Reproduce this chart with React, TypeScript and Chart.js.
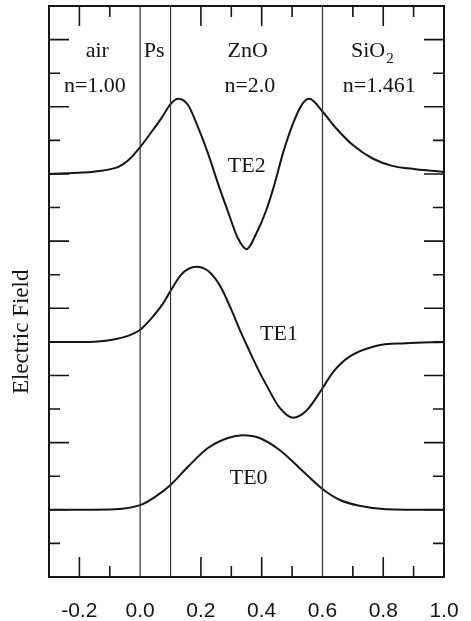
import React, { useEffect, useRef } from 'react';
import { Chart, registerables } from 'chart.js';

Chart.register(...registerables);

const INK = '#151515';
const SERIF = '"Liberation Serif", "DejaVu Serif", serif';
const SANS = '"Liberation Sans", Arial, sans-serif';

// axis ranges
const X_MIN = -0.3;
const X_MAX = 1.0;
const Y_MIN = 0;
const Y_MAX = 8.5;

// layer boundaries (x positions of vertical lines)
const boundaries = [0, 0.1, 0.6];

// TE2 mode profile
const te2X = [-0.3, -0.19, -0.14, -0.07, -0.04, 0.0, 0.03, 0.07, 0.1, 0.125, 0.157, 0.19, 0.223, 0.256, 0.289, 0.321, 0.35, 0.383, 0.415, 0.443, 0.47, 0.503, 0.535, 0.557, 0.6, 0.645, 0.7, 0.765, 0.83, 0.907, 1.0];
const te2Y = [6.0, 6.02, 6.04, 6.11, 6.2, 6.4, 6.58, 6.83, 7.04, 7.12, 7.03, 6.7, 6.31, 5.86, 5.44, 5.05, 4.88, 5.12, 5.46, 5.86, 6.31, 6.75, 7.05, 7.12, 6.93, 6.68, 6.43, 6.23, 6.12, 6.07, 6.03];

// TE1 mode profile
const te1X = [-0.3, -0.17, -0.083, -0.04, 0.0, 0.037, 0.075, 0.1, 0.135, 0.16, 0.185, 0.223, 0.261, 0.3, 0.328, 0.354, 0.385, 0.415, 0.459, 0.503, 0.546, 0.6, 0.633, 0.689, 0.776, 0.874, 1.0];
const te1Y = [3.5, 3.5, 3.54, 3.59, 3.68, 3.85, 4.07, 4.26, 4.5, 4.59, 4.62, 4.56, 4.35, 3.98, 3.68, 3.42, 3.12, 2.86, 2.52, 2.37, 2.47, 2.81, 3.04, 3.28, 3.44, 3.48, 3.5];

// TE0 mode profile
const te0X = [-0.3, -0.083, 0.0, 0.048, 0.1, 0.157, 0.223, 0.289, 0.338, 0.393, 0.459, 0.525, 0.6, 0.656, 0.721, 0.809, 1.0];
const te0Y = [1.0, 1.01, 1.07, 1.19, 1.37, 1.64, 1.92, 2.07, 2.11, 2.07, 1.89, 1.62, 1.31, 1.15, 1.06, 1.01, 1.0];

// layer labels
const layerNames = ['air', 'Ps', 'ZnO', 'SiO'];
const layerSubs = ['', '', '', '2'];
const layerNameX = [-0.141, 0.046, 0.354, 0.764];
const layerIndex = ['n=1.00', '', 'n=2.0', 'n=1.461'];
const layerIndexX = [-0.149, 0, 0.361, 0.787];
const nameRowY = 7.74;
const indexRowY = 7.22;

// mode labels
const modeNames = ['TE2', 'TE1', 'TE0'];
const modeLabelX = [0.351, 0.457, 0.357];
const modeLabelY = [6.03, 3.53, 1.39];

const yTitle = 'Electric Field';
const yTitleY = 3.65;

const toPoints = (xs: number[], ys: number[]) => xs.map((x, i) => ({ x, y: ys[i] }));

const decor = {
  id: 'decor',
  afterDraw(chart: any) {
    const { ctx, chartArea: a, scales } = chart;
    const xs = scales.x;
    const ys = scales.y;
    ctx.save();
    ctx.strokeStyle = INK;
    ctx.lineWidth = 1.6;
    ctx.beginPath();
    // x ticks (inward, top and bottom)
    xs.ticks.forEach((t: any) => {
      const k = Math.round(t.value * 10);
      if (t.value <= X_MIN + 1e-9 || t.value >= X_MAX - 1e-9) return;
      if (boundaries.some((b) => Math.abs(b - t.value) < 1e-6)) return;
      const len = k % 2 === 0 ? 20 : 11;
      const px = xs.getPixelForValue(t.value);
      ctx.moveTo(px, a.bottom);
      ctx.lineTo(px, a.bottom - len);
      ctx.moveTo(px, a.top);
      ctx.lineTo(px, a.top + len);
    });
    // y ticks (inward, left and right)
    ys.ticks.forEach((t: any) => {
      if (t.value <= Y_MIN + 1e-9 || t.value >= Y_MAX - 1e-9) return;
      const k = Math.round(t.value * 2);
      const len = k % 2 === 0 ? 20 : 11;
      const py = ys.getPixelForValue(t.value);
      ctx.moveTo(a.left, py);
      ctx.lineTo(a.left + len, py);
      ctx.moveTo(a.right, py);
      ctx.lineTo(a.right - len, py);
    });
    ctx.stroke();
    // frame
    ctx.lineWidth = 2;
    ctx.strokeRect(a.left, a.top, a.right - a.left, a.bottom - a.top);

    // texts
    ctx.fillStyle = INK;
    ctx.textBaseline = 'alphabetic';
    const mainFont = `22px ${SERIF}`;
    const subFont = `15px ${SERIF}`;
    layerNames.forEach((name, i) => {
      ctx.font = mainFont;
      const w1 = ctx.measureText(name).width;
      let w2 = 0;
      if (layerSubs[i]) {
        ctx.font = subFont;
        w2 = ctx.measureText(layerSubs[i]).width + 1;
      }
      const cx = xs.getPixelForValue(layerNameX[i]);
      const by = ys.getPixelForValue(nameRowY);
      const left = cx - (w1 + w2) / 2;
      ctx.font = mainFont;
      ctx.textAlign = 'left';
      ctx.fillText(name, left, by);
      if (layerSubs[i]) {
        ctx.font = subFont;
        ctx.fillText(layerSubs[i], left + w1 + 1, by + 6);
      }
    });
    ctx.font = mainFont;
    ctx.textAlign = 'center';
    layerIndex.forEach((s, i) => {
      if (!s) return;
      ctx.fillText(s, xs.getPixelForValue(layerIndexX[i]), ys.getPixelForValue(indexRowY));
    });
    modeNames.forEach((s, i) => {
      ctx.fillText(s, xs.getPixelForValue(modeLabelX[i]), ys.getPixelForValue(modeLabelY[i]));
    });
    // y title
    ctx.save();
    ctx.font = `23px ${SERIF}`;
    ctx.textBaseline = 'middle';
    ctx.translate(a.left - 27, ys.getPixelForValue(yTitleY));
    ctx.rotate(-Math.PI / 2);
    ctx.fillText(yTitle, 0, 0);
    ctx.restore();
    ctx.restore();
  },
};

export default function App() {
  const ref = useRef<HTMLCanvasElement | null>(null);
  useEffect(() => {
    if (!ref.current) return;
    const curve = (label: string, xs: number[], ys: number[]) => ({
      label,
      data: toPoints(xs, ys),
      borderColor: INK,
      borderWidth: 2,
      pointRadius: 0,
      fill: false,
      cubicInterpolationMode: 'monotone' as const,
    });
    const chart = new Chart(ref.current, {
      type: 'line',
      data: {
        datasets: [
          ...boundaries.map((b) => ({
            label: 'boundary ' + b,
            data: [{ x: b, y: Y_MIN }, { x: b, y: Y_MAX }],
            borderColor: '#333',
            borderWidth: 1.2,
            pointRadius: 0,
            fill: false,
          })),
          curve('TE2', te2X, te2Y),
          curve('TE1', te1X, te1Y),
          curve('TE0', te0X, te0Y),
        ],
      },
      options: {
        animation: false,
        responsive: false,
        devicePixelRatio: 1,
        layout: { padding: { top: 6, right: 27, left: 0, bottom: 0 } },
        plugins: { legend: { display: false }, tooltip: { enabled: false }, title: { display: false } },
        scales: {
          x: {
            type: 'linear',
            min: X_MIN,
            max: X_MAX,
            grid: { display: false, drawTicks: false },
            border: { display: false },
            afterFit: (s: any) => {
              s.height = 44;
              s.paddingLeft = 0;
              s.paddingRight = 0;
            },
            ticks: {
              stepSize: 0.1,
              autoSkip: false,
              maxRotation: 0,
              padding: 22,
              color: INK,
              font: { family: SANS, size: 21 },
              callback: (v: any) => {
                const k = Math.round(Number(v) * 10);
                return k % 2 === 0 && k > -3 ? (k / 10).toFixed(1) : '';
              },
            },
          },
          y: {
            type: 'linear',
            min: Y_MIN,
            max: Y_MAX,
            grid: { display: false, drawTicks: false },
            border: { display: false },
            afterFit: (s: any) => {
              s.width = 49;
              s.paddingTop = 0;
              s.paddingBottom = 0;
            },
            ticks: { stepSize: 0.5, display: false },
          },
        },
      },
      plugins: [decor],
    });
    return () => chart.destroy();
  }, []);
  return (
    <div style={{ position: 'fixed', left: 0, top: 0, width: 471, height: 621, background: '#fff' }}>
      <canvas ref={ref} width={471} height={621} style={{ display: 'block' }} />
    </div>
  );
}
